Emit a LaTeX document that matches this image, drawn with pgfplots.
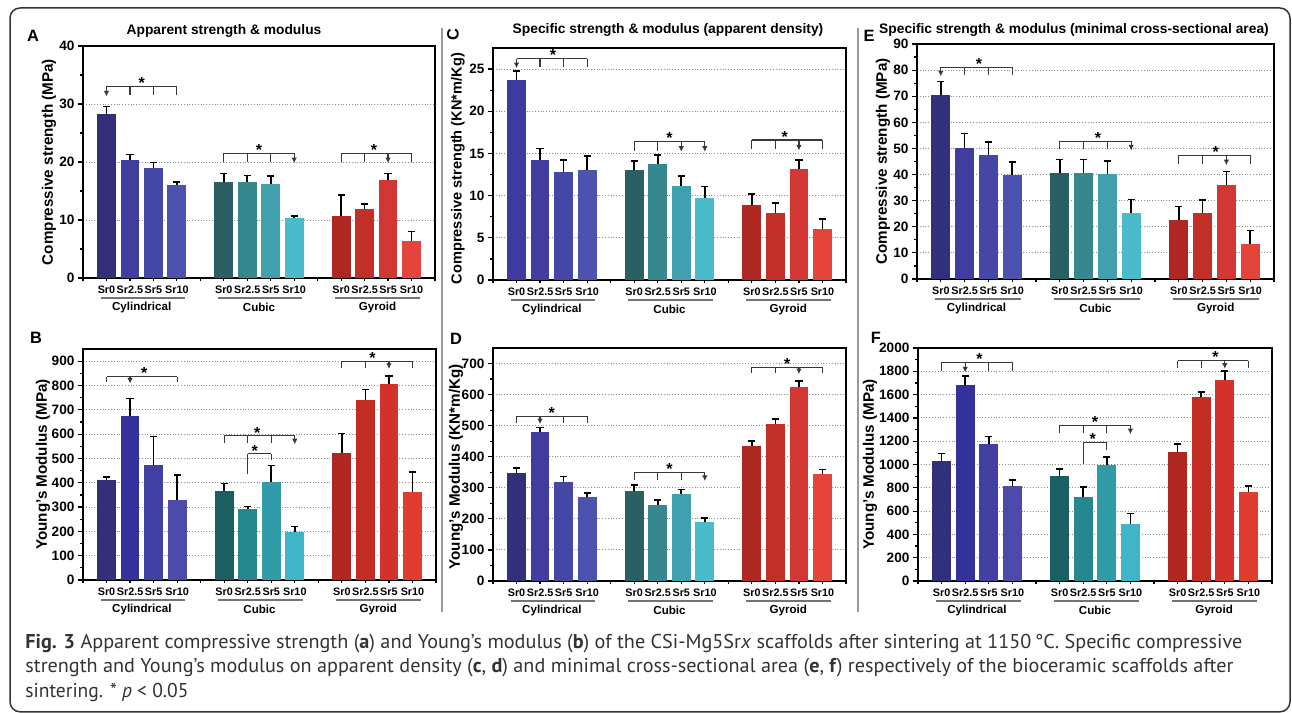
\documentclass[border=0pt]{standalone}
\usepackage{pgfplots}
\pgfplotsset{compat=1.18}
\usetikzlibrary{arrows.meta}
\usepackage{fontspec}
\setmainfont{Liberation Sans}
\newfontfamily\capfont{PT Sans}
\usepackage{graphicx}
% palette 1 (A, C, D, E)
\definecolor{pya}{HTML}{332F7B}\definecolor{pyb}{HTML}{413C9F}\definecolor{pyc}{HTML}{4447A5}\definecolor{pyd}{HTML}{4B53AE}
\definecolor{pua}{HTML}{2A5F63}\definecolor{pub}{HTML}{37878F}\definecolor{puc}{HTML}{40A0AD}\definecolor{pud}{HTML}{4ABBCB}
\definecolor{pga}{HTML}{AF2722}\definecolor{pgb}{HTML}{C12F28}\definecolor{pgc}{HTML}{D23734}\definecolor{pgd}{HTML}{E5443D}
\definecolor{pcc}{HTML}{3E3AA0}
% palette 2 (B, F)
\definecolor{qya}{HTML}{342F7A}\definecolor{qyb}{HTML}{34319A}\definecolor{qyc}{HTML}{4240A3}\definecolor{qyd}{HTML}{4D4BAA}
\definecolor{qua}{HTML}{1C5F63}\definecolor{qub}{HTML}{26878F}\definecolor{quc}{HTML}{309CA8}\definecolor{qud}{HTML}{40B5C7}
\definecolor{qga}{HTML}{B02721}\definecolor{qgb}{HTML}{C32C22}\definecolor{qgc}{HTML}{D2322B}\definecolor{qgd}{HTML}{E03C30}
\definecolor{capcol}{HTML}{333333}
\definecolor{sepcol}{HTML}{9A9A9A}

\pgfplotsset{
  panel/.style={
    scale only axis, clip=false,
    xmin=0, xmax=15, ymin=0,
    axis line style={line width=0.9pt},
    every tick/.style={black, line width=0.6pt},
    tick align=outside, tick pos=left,
    major tick length=2.6pt, minor tick length=1.4pt,
    minor y tick num=1,
    xtick={1,2,3,4,6,7,8,9,11,12,13,14},
    xticklabels={Sr0,Sr2.5,Sr5,Sr10,Sr0,Sr2.5,Sr5,Sr10,Sr0,Sr2.5,Sr5,Sr10},
    xtick style={/pgfplots/major tick length=1.5pt},
    extra x ticks={0,5,10,15}, extra x tick labels={},
    extra x tick style={/pgfplots/major tick length=2.8pt},
    xticklabel style={font=\fontsize{5.4}{6}\selectfont\bfseries, inner sep=1pt},
    yticklabel style={font=\fontsize{6.8}{7.5}\selectfont\bfseries, inner sep=1.5pt},
    ylabel style={font=\fontsize{7.6}{8.5}\selectfont\bfseries, anchor=center},
    ymajorgrids, grid style={densely dotted, black!45, line width=0.5pt},
    /pgf/number format/assume math mode=true,
    /pgf/number format/1000 sep={},
    scaled y ticks=false,
  },
  bs/.style={ybar, bar width=0.8, bar shift=0pt, draw=none, fill=#1,
    error bars/.cd, y dir=plus, y explicit,
    error bar style={line width=0.8pt, black},
    error mark options={rotate=90, mark size=1.8pt, line width=0.8pt, black}},
}
\tikzset{
  brs/.style={line width=0.6pt, draw=black!78},
  gline/.style={line width=0.75pt, draw=black!55},
  glab/.style={font=\fontsize{5.8}{6}\selectfont\bfseries, inner sep=0pt},
  star/.style={anchor=south, inner sep=0pt, yshift=-1.3pt, font=\fontsize{8}{8}\selectfont\bfseries},
  plet/.style={font=\fontsize{8.2}{9}\selectfont\bfseries, inner sep=0pt},
  ptit/.style={font=\fontsize{6.9}{8}\selectfont\bfseries, inner sep=0pt},
}
\newcommand{\hb}[3]{\draw[brs] (axis cs:#1,#3) -- (axis cs:#2,#3);}
\newcommand{\vt}[3]{\draw[brs] (axis cs:#1,#2) -- (axis cs:#1,#3);}
\newcommand{\va}[3]{\draw[brs,-{Latex[length=2.8pt,width=2.8pt]}] (axis cs:#1,#2) -- (axis cs:#1,#3);}
\newcommand{\sg}[2]{\node[star] at (axis cs:#1,#2) {*};}
\newcommand{\grp}{%
  \draw[gline] ([yshift=-10pt]axis cs:0.75,0) -- ([yshift=-10pt]axis cs:4.35,0);
  \draw[gline] ([yshift=-10pt]axis cs:5.75,0) -- ([yshift=-10pt]axis cs:9.35,0);
  \draw[gline] ([yshift=-10pt]axis cs:10.75,0) -- ([yshift=-10pt]axis cs:14.35,0);
  \node[glab] at ([yshift=-14.6pt]axis cs:2.5,0) {Cylindrical};
  \node[glab] at ([yshift=-14.6pt]axis cs:7.5,0) {Cubic};
  \node[glab] at ([yshift=-14.6pt]axis cs:12.55,0) {Gyroid};}
\newlength\capw
\newcommand\fitline[2]{\settowidth{\capw}{#2}\pgfmathsetmacro\sx{#1/\capw}\scalebox{\sx}[1]{#2}}

\begin{document}
\begin{tikzpicture}
\useasboundingbox (0,0) rectangle (646pt,356.5pt);
% frame and separators
\draw[line width=0.75pt, draw=black!80, rounded corners=5pt] (5pt,0.6pt) rectangle (645pt,352.5pt);
\draw[line width=1.3pt, draw=sepcol] (221pt,342.5pt) -- (221pt,50.5pt);
\draw[line width=1.3pt, draw=sepcol] (429pt,342.5pt) -- (429pt,50.5pt);
% titles and letters
\node[ptit] at (112pt,341pt) {Apparent strength \& modulus};
\node[ptit] at (334pt,341.5pt) {Specific strength \& modulus (apparent density)};
\node[ptit] at (537pt,341.5pt) {Specific strength \& modulus (minimal cross-sectional area)};
\node[plet] at (16.5pt,338.5pt) {A};
\node[plet] at (18pt,187.5pt) {B};
\node[plet, rotate=90] at (226.5pt,339pt) {C};
\node[plet] at (228pt,187pt) {D};
\node[plet] at (434.5pt,338.5pt) {E};
\node[plet] at (438pt,187.5pt) {F};

% ---------- A ----------
\begin{axis}[panel, at={(41.5pt,217.5pt)}, anchor=south west, width=176pt, height=116pt,
  ymax=40, ytick={0,10,20,30,40}, ylabel={Compressive strength (MPa)},
  ylabel style={at={(axis description cs:-0.0966,0.5)}}]
\addplot[bs=pya] coordinates {(1,28.2) +- (0,1.4)};
\addplot[bs=pyb] coordinates {(2,20.3) +- (0,1.0)};
\addplot[bs=pyc] coordinates {(3,19.0) +- (0,0.9)};
\addplot[bs=pyd] coordinates {(4,16.0) +- (0,0.5)};
\addplot[bs=pua] coordinates {(6,16.6) +- (0,1.4)};
\addplot[bs=pub] coordinates {(7,16.6) +- (0,1.1)};
\addplot[bs=puc] coordinates {(8,16.2) +- (0,1.4)};
\addplot[bs=pud] coordinates {(9,10.4) +- (0,0.3)};
\addplot[bs=pga] coordinates {(11,10.7) +- (0,3.6)};
\addplot[bs=pgb] coordinates {(12,11.9) +- (0,0.9)};
\addplot[bs=pgc] coordinates {(13,16.9) +- (0,1.1)};
\addplot[bs=pgd] coordinates {(14,6.4) +- (0,1.6)};
\grp
\hb{1}{4}{33}\va{1}{33}{31.3}\vt{2}{33}{31.5}\vt{3}{33}{31.5}\vt{4}{33}{31.5}\sg{2.5}{33}
\hb{6}{9}{21.5}\vt{6}{21.5}{20}\vt{7}{21.5}{20}\vt{8}{21.5}{20}\va{9}{21.5}{19.8}\sg{7.5}{21.5}
\hb{11}{14}{21.5}\vt{11}{21.5}{20}\vt{12}{21.5}{20}\va{13}{21.5}{19.8}\vt{14}{21.5}{20}\sg{12.4}{21.5}
\end{axis}

% ---------- B ----------
\begin{axis}[panel, at={(41.5pt,66.5pt)}, anchor=south west, width=176.5pt, height=115.5pt,
  ymax=950, ytick={0,100,...,900}, ylabel={Young’s Modulus (MPa)},
  ylabel style={at={(axis description cs:-0.1133,0.5)}}]
\addplot[bs=qya] coordinates {(1,412) +- (0,12)};
\addplot[bs=qyb] coordinates {(2,676) +- (0,71)};
\addplot[bs=qyc] coordinates {(3,474) +- (0,117)};
\addplot[bs=qyd] coordinates {(4,330) +- (0,101)};
\addplot[bs=qua] coordinates {(6,367) +- (0,30)};
\addplot[bs=qub] coordinates {(7,293) +- (0,9)};
\addplot[bs=quc] coordinates {(8,404) +- (0,67)};
\addplot[bs=qud] coordinates {(9,199) +- (0,21)};
\addplot[bs=qga] coordinates {(11,523) +- (0,79)};
\addplot[bs=qgb] coordinates {(12,742) +- (0,41)};
\addplot[bs=qgc] coordinates {(13,808) +- (0,30)};
\addplot[bs=qgd] coordinates {(14,363) +- (0,82)};
\grp
\hb{1}{4}{836}\vt{1}{836}{813}\va{2}{836}{808}\vt{4}{836}{813}\sg{2.6}{836}
\hb{6}{9}{593}\vt{6}{593}{563}\vt{7}{593}{563}\vt{8}{593}{563}\va{9}{593}{558}\sg{7.4}{593}
\hb{7}{8}{519}\vt{7}{519}{437}\vt{8}{519}{492}\sg{7.3}{519}
\hb{11}{14}{900}\vt{11}{900}{872}\vt{12}{900}{872}\va{13}{900}{868}\vt{14}{900}{872}\sg{12.3}{900}
\end{axis}

% ---------- C ----------
\begin{axis}[panel, at={(246.5pt,216.5pt)}, anchor=south west, width=176.5pt, height=116pt,
  ymax=27.5, ytick={0,5,...,25}, ylabel={Compressive strength (KN*m/Kg)},
  ylabel style={at={(axis description cs:-0.0992,0.48)}, font=\fontsize{7.3}{8}\selectfont\bfseries}]
\addplot[bs=pcc] coordinates {(1,23.7) +- (0,1.1)};
\addplot[bs=pyb] coordinates {(2,14.25) +- (0,1.35)};
\addplot[bs=pyc] coordinates {(3,12.75) +- (0,1.5)};
\addplot[bs=pyd] coordinates {(4,13.0) +- (0,1.7)};
\addplot[bs=pua] coordinates {(6,13.0) +- (0,1.1)};
\addplot[bs=pub] coordinates {(7,13.7) +- (0,1.1)};
\addplot[bs=puc] coordinates {(8,11.2) +- (0,1.1)};
\addplot[bs=pud] coordinates {(9,9.7) +- (0,1.4)};
\addplot[bs=pga] coordinates {(11,8.86) +- (0,1.35)};
\addplot[bs=pgb] coordinates {(12,8.0) +- (0,1.1)};
\addplot[bs=pgc] coordinates {(13,13.1) +- (0,1.1)};
\addplot[bs=pgd] coordinates {(14,6.0) +- (0,1.2)};
\grp
\hb{1}{4}{26.25}\va{1}{26.25}{25.1}\vt{2}{26.25}{25.2}\vt{3}{26.25}{25.2}\vt{4}{26.25}{25.2}\sg{2.55}{26.25}
\hb{6}{9}{16.4}\vt{6}{16.4}{15.35}\vt{7}{16.4}{15.35}\va{8}{16.4}{15.2}\va{9}{16.4}{15.2}\sg{7.5}{16.4}
\hb{11}{14}{16.6}\vt{11}{16.6}{15.5}\vt{12}{16.6}{15.5}\va{13}{16.6}{15.35}\vt{14}{16.6}{15.5}\sg{12.4}{16.6}
\end{axis}

% ---------- D ----------
\begin{axis}[panel, at={(246.5pt,66pt)}, anchor=south west, width=176.5pt, height=116.5pt,
  ymax=750, ytick={0,100,...,700}, ylabel={Young’s Modulus (KN*m/Kg)},
  ylabel style={at={(axis description cs:-0.1048,0.49)}}]
\addplot[bs=pya] coordinates {(1,347) +- (0,17)};
\addplot[bs=pyb] coordinates {(2,479) +- (0,15)};
\addplot[bs=pyc] coordinates {(3,318) +- (0,18)};
\addplot[bs=pyd] coordinates {(4,270) +- (0,14)};
\addplot[bs=pua] coordinates {(6,289) +- (0,20)};
\addplot[bs=pub] coordinates {(7,244) +- (0,16)};
\addplot[bs=puc] coordinates {(8,279) +- (0,16)};
\addplot[bs=pud] coordinates {(9,189) +- (0,14)};
\addplot[bs=pga] coordinates {(11,434) +- (0,17)};
\addplot[bs=pgb] coordinates {(12,505) +- (0,17)};
\addplot[bs=pgc] coordinates {(13,624) +- (0,19)};
\addplot[bs=pgd] coordinates {(14,344) +- (0,15)};
\grp
\hb{1}{4}{530}\vt{1}{530}{509}\va{2}{530}{505}\vt{3}{530}{509}\vt{4}{530}{509}\sg{2.5}{530}
\hb{6}{9}{350}\vt{6}{350}{326}\vt{7}{350}{326}\vt{8}{350}{326}\va{9}{350}{322}\sg{7.5}{350}
\hb{11}{14}{688}\vt{11}{688}{670}\vt{12}{688}{670}\va{13}{688}{666}\vt{14}{688}{670}\sg{12.5}{688}
\end{axis}

% ---------- E ----------
\begin{axis}[panel, at={(458.5pt,217pt)}, anchor=south west, width=178.5pt, height=117.5pt,
  ymax=90, ytick={0,10,...,90}, ylabel={Compressive strength (MPa)},
  ylabel style={at={(axis description cs:-0.0952,0.5)}}]
\addplot[bs=pya] coordinates {(1,70.5) +- (0,5.2)};
\addplot[bs=pyb] coordinates {(2,50.3) +- (0,5.4)};
\addplot[bs=pyc] coordinates {(3,47.3) +- (0,5.1)};
\addplot[bs=pyd] coordinates {(4,40.0) +- (0,4.8)};
\addplot[bs=pua] coordinates {(6,40.7) +- (0,5.1)};
\addplot[bs=pub] coordinates {(7,40.7) +- (0,5.1)};
\addplot[bs=puc] coordinates {(8,40.4) +- (0,4.9)};
\addplot[bs=pud] coordinates {(9,25.4) +- (0,5.0)};
\addplot[bs=pga] coordinates {(11,22.7) +- (0,5.0)};
\addplot[bs=pgb] coordinates {(12,25.4) +- (0,4.9)};
\addplot[bs=pgc] coordinates {(13,36.1) +- (0,5.0)};
\addplot[bs=pgd] coordinates {(14,13.5) +- (0,5.1)};
\grp
\hb{1}{4}{81}\va{1}{81}{77.6}\vt{2}{81}{78}\vt{3}{81}{78}\vt{4}{81}{78}\sg{2.6}{81}
\hb{6}{9}{52.7}\vt{6}{52.7}{49.6}\vt{7}{52.7}{49.6}\vt{8}{52.7}{49.6}\va{9}{52.7}{49.2}\sg{7.6}{52.7}
\hb{11}{14}{47.4}\vt{11}{47.4}{44}\vt{12}{47.4}{44}\va{13}{47.4}{43.6}\vt{14}{47.4}{44}\sg{12.55}{47.4}
\end{axis}

% ---------- F ----------
\begin{axis}[panel, at={(459pt,66pt)}, anchor=south west, width=177pt, height=116.5pt,
  ymax=2000, ytick={0,200,...,2000}, ylabel={Young’s Modulus (MPa)},
  ylabel style={at={(axis description cs:-0.1356,0.5)}}]
\addplot[bs=qya] coordinates {(1,1027) +- (0,66)};
\addplot[bs=qyb] coordinates {(2,1680) +- (0,80)};
\addplot[bs=qyc] coordinates {(3,1173) +- (0,66)};
\addplot[bs=qyd] coordinates {(4,813) +- (0,54)};
\addplot[bs=qua] coordinates {(6,898) +- (0,63)};
\addplot[bs=qub] coordinates {(7,718) +- (0,89)};
\addplot[bs=quc] coordinates {(8,993) +- (0,69)};
\addplot[bs=qud] coordinates {(9,486) +- (0,92)};
\addplot[bs=qga] coordinates {(11,1104) +- (0,72)};
\addplot[bs=qgb] coordinates {(12,1577) +- (0,45)};
\addplot[bs=qgc] coordinates {(13,1722) +- (0,83)};
\addplot[bs=qgd] coordinates {(14,761) +- (0,52)};
\grp
\hb{1}{4}{1877}\vt{1}{1877}{1800}\va{2}{1877}{1790}\vt{3}{1877}{1800}\vt{4}{1877}{1800}\sg{2.6}{1877}
\hb{6}{9}{1336}\vt{6}{1336}{1270}\vt{7}{1336}{1270}\vt{8}{1336}{1270}\va{9}{1336}{1260}\sg{7.5}{1336}
\hb{7}{8}{1187}\vt{7}{1187}{1007}\vt{8}{1187}{1122}\sg{7.4}{1187}
\hb{11}{14}{1891}\vt{11}{1891}{1831}\vt{12}{1891}{1831}\va{13}{1891}{1822}\vt{14}{1891}{1831}\sg{12.6}{1891}
\end{axis}

% caption
\node[anchor=base west, inner sep=0pt, text=capcol] at (12.5pt,32pt) {\capfont\fontsize{10}{12}\selectfont\fitline{608.5}{\textbf{Fig. 3} Apparent compressive strength (\textbf{a}) and Young’s modulus (\textbf{b}) of the CSi-Mg5Sr\textit{x} scaffolds after sintering at 1150\,°C. Specific compressive}};
\node[anchor=base west, inner sep=0pt, text=capcol] at (12.5pt,20pt) {\capfont\fontsize{10}{12}\selectfont\fitline{604}{strength and Young’s modulus on apparent density (\textbf{c}, \textbf{d}) and minimal cross-sectional area (\textbf{e}, \textbf{f}) respectively of the bioceramic scaffolds after}};
\node[anchor=base west, inner sep=0pt, text=capcol] at (12.5pt,7.5pt) {\capfont\fontsize{10}{12}\selectfont\fitline{81.5}{sintering. * \textit{p} {<} 0.05}};
\end{tikzpicture}
\end{document}
